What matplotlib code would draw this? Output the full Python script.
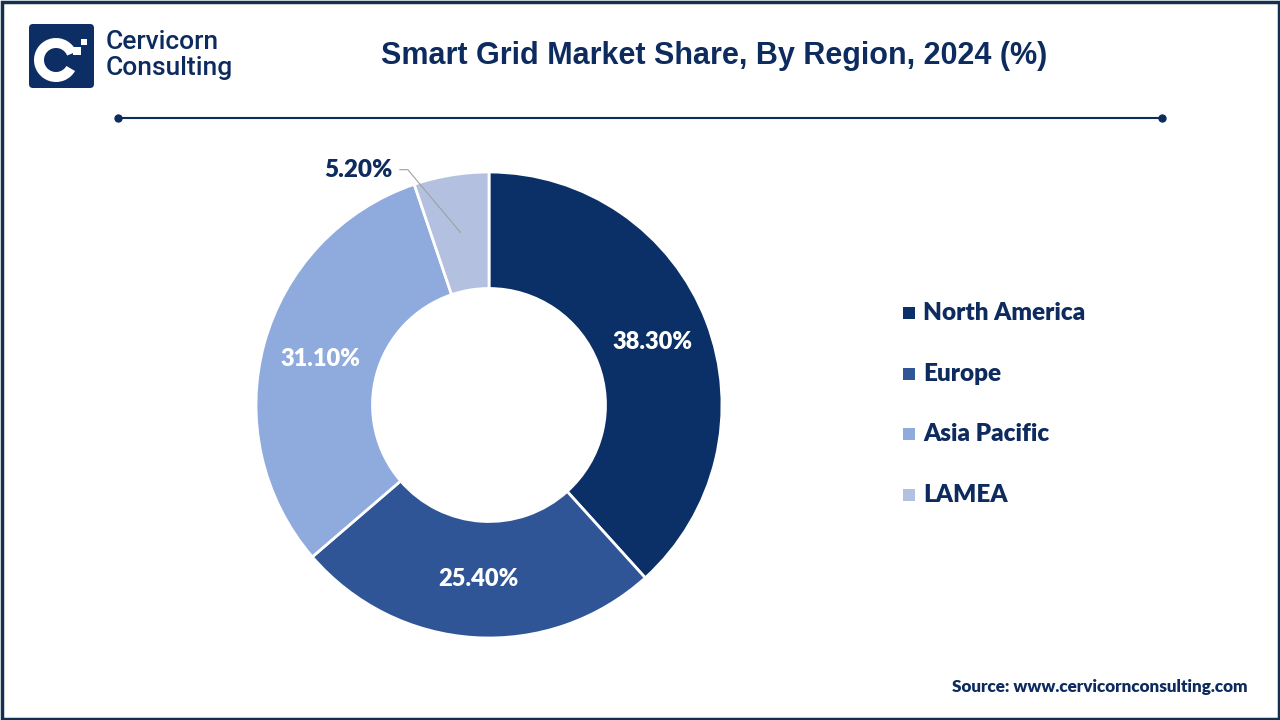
import numpy as np
import matplotlib.pyplot as plt
from matplotlib.patches import Rectangle, FancyBboxPatch, Wedge

regions = ['North America', 'Europe', 'Asia Pacific', 'LAMEA']
shares = [38.3, 25.4, 31.1, 5.2]
colors = ['#0b3068', '#2f5597', '#8faadc', '#b4c0e0']
label_colors = ['white', 'white', 'white', '#0d2b5e']

navy = '#0d2b5e'

fig = plt.figure(figsize=(12.8, 7.2), dpi=100)

# background overlay in pixel coords
bg = fig.add_axes([0, 0, 1, 1])
bg.set_xlim(0, 1280)
bg.set_ylim(720, 0)
bg.axis('off')

# frame
bg.add_patch(Rectangle((1.5, 1.5), 1277, 717, fill=False, ec='#12304f', lw=2.5))

# logo
bg.add_patch(FancyBboxPatch((29, 24), 65, 64, boxstyle='round,pad=0,rounding_size=4',
                            fc='#0d2e64', ec='none'))
bg.add_patch(Wedge((56, 60), 22, 30, 338, width=10, fc='white', ec='none'))
bg.add_patch(Rectangle((73, 47), 8, 8, fc='white', ec='none'))
bg.add_patch(Rectangle((81, 39), 6, 6, fc='white', ec='none'))
bg.text(106, 42, 'Cervicorn', fontsize=19, color=navy, family='Roboto',
        fontweight='medium', va='center', ha='left')
bg.text(106, 67.5, 'Consulting', fontsize=19, color=navy, family='Roboto',
        fontweight='medium', va='center', ha='left')

# title
bg.text(714, 56, 'Smart Grid Market Share, By Region, 2024 (%)', fontsize=22,
        fontweight='bold', color=navy, family='Liberation Sans', ha='center', va='center')

# separator line
bg.plot([118, 1162], [118, 118], color=navy, lw=1.5)
bg.plot([118, 1162], [118, 118], 'o', color=navy, ms=5)

# source
bg.text(1248, 687, 'Source: www.cervicornconsulting.com', fontsize=12.3,
        fontweight='heavy', color=navy, family='Lato', ha='right', va='center')

# donut
cx, cy, R = 489, 405, 233
ax = fig.add_axes([(cx - R) / 1280, (720 - cy - R) / 720, 2 * R / 1280, 2 * R / 720])
wedges, _ = ax.pie(shares, colors=colors, startangle=90, counterclock=False,
                   radius=1, wedgeprops=dict(width=0.5, edgecolor='white', linewidth=2))
ax.set_xlim(-1, 1)
ax.set_ylim(-1, 1)
ax.set_aspect('equal')
ax.axis('off')

for w, v, tc in zip(wedges, shares, label_colors):
    mid = np.deg2rad((w.theta1 + w.theta2) / 2)
    lbl = f'{v:.2f}%'
    if v < 10:
        px, py = 0.75 * np.cos(mid), 0.75 * np.sin(mid)
        ax.annotate(lbl, xy=(px, py), xytext=(-0.56, 1.01), fontsize=17.5,
                    fontweight='heavy', color=tc, family='Lato', ha='center', va='center',
                    arrowprops=dict(arrowstyle='-', color='#a0a0a0', lw=0.8,
                                    shrinkA=3, shrinkB=0,
                                    connectionstyle='angle,angleA=0,angleB=130,rad=0'))
    else:
        ax.text(0.75 * np.cos(mid), 0.75 * np.sin(mid), lbl, fontsize=17,
                fontweight='heavy', color=tc, family='Lato', ha='center', va='center')

# legend
leg_y = [313, 374, 434, 495]
for name, col, y in zip(regions, colors, leg_y):
    bg.add_patch(Rectangle((903, y - 6), 12, 12, fc=col, ec='none'))
    bg.text(923, y, name, fontsize=17.5, fontweight='heavy', color=navy, family='Lato',
            ha='left', va='center')

fig.savefig('out.png', dpi=100)
